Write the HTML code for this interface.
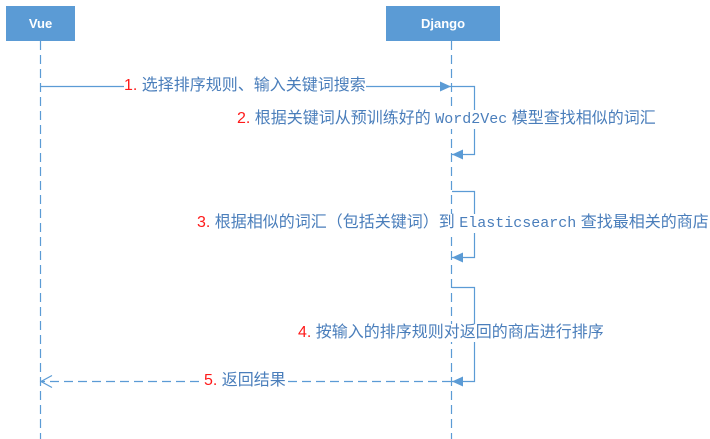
<!DOCTYPE html>
<html><head><meta charset="utf-8"><style>
body{margin:0;width:710px;height:439px;background:#fff;position:relative;overflow:hidden;font-family:"Liberation Sans","Microsoft YaHei","Noto Sans CJK SC",sans-serif}
.box{position:absolute;background:#5b9bd5;color:#fff;font-weight:bold;font-size:13px;display:flex;align-items:center;justify-content:center;top:6px;height:35px}
.lbl{position:absolute;background:#fff;color:#4a7ebb;font-size:16px;white-space:nowrap;line-height:18px;transform:translateY(-9px)}
.lbl b{color:#ff1a1a;font-weight:normal}
.lbl i{font-style:normal;font-family:"Liberation Mono",monospace;font-size:15px}
svg{position:absolute;left:0;top:0}
</style></head><body>
<svg width="710" height="439">
<defs>
<marker id="f" markerWidth="12" markerHeight="10" refX="11" refY="5" orient="auto" markerUnits="userSpaceOnUse"><path d="M0,0 L11,5 L0,10 Z" fill="#5b9bd5"/></marker>
<marker id="o" markerWidth="14" markerHeight="14" refX="12" refY="7" orient="auto" markerUnits="userSpaceOnUse"><path d="M1,1 L12,7 L1,13" fill="none" stroke="#5b9bd5" stroke-width="1.2"/></marker>
</defs>
<g stroke="#5b9bd5" stroke-width="1.2" fill="none">
<line x1="40.5" y1="41" x2="40.5" y2="439" stroke-dasharray="9,5"/>
<line x1="451.5" y1="41" x2="451.5" y2="439" stroke-dasharray="9,5"/>
<line x1="40" y1="86.5" x2="451" y2="86.5" marker-end="url(#f)"/>
<polyline points="452,86.5 474.5,86.5 474.5,154.5 452,154.5" marker-end="url(#f)"/>
<polyline points="452,191.5 474.5,191.5 474.5,257.5 452,257.5" marker-end="url(#f)"/>
<polyline points="452,287.5 474.5,287.5 474.5,381.5 452,381.5" marker-end="url(#f)"/>
<line x1="451" y1="381.5" x2="41" y2="381.5" stroke-dasharray="9,5" marker-end="url(#o)"/>
</g>
</svg>
<div class="box" style="left:6px;width:69px">Vue</div>
<div class="box" style="left:386px;width:114px">Django</div>
<div class="lbl" style="left:124px;top:86px"><b>1.</b> 选择排序规则、输入关键词搜索</div>
<div class="lbl" style="left:237px;top:119px"><b>2.</b> 根据关键词从预训练好的 <i>Word2Vec</i> 模型查找相似的词汇</div>
<div class="lbl" style="left:197px;top:223px"><b>3.</b> 根据相似的词汇（包括关键词）到 <i>Elasticsearch</i> 查找最相关的商店</div>
<div class="lbl" style="left:298px;top:333px"><b>4.</b> 按输入的排序规则对返回的商店进行排序</div>
<div class="lbl" style="left:204px;top:381px"><b>5.</b> 返回结果</div>
</body></html>
